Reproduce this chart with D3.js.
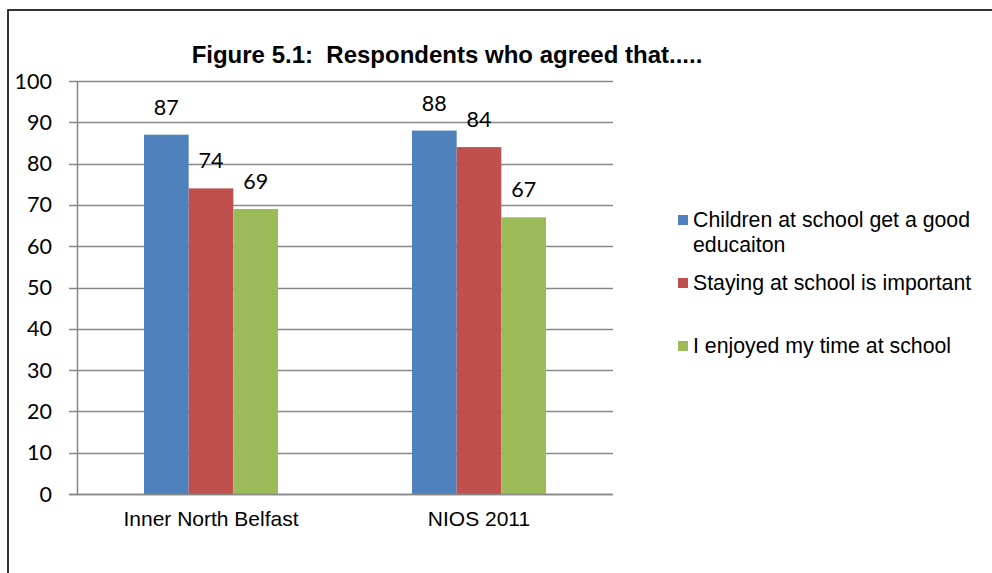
<!DOCTYPE html>
<html><head><meta charset="utf-8">
<script src="https://cdn.jsdelivr.net/npm/d3@7"></script>
<style>body{margin:0;background:#fff}svg{display:block}</style>
</head><body>
<svg id="chart" width="992" height="573"></svg>
<script>
const categories = ["Inner North Belfast", "NIOS 2011"];
const seriesNames = ["Children at school get a good educaiton", "Staying at school is important", "I enjoyed my time at school"];
const legendLines = [["Children at school get a good", "educaiton"], ["Staying at school is important"], ["I enjoyed my time at school"]];
const childrenGoodEducation = [87, 88];
const stayingImportant = [74, 84];
const enjoyedTime = [69, 67];
const yTicks = [0, 10, 20, 30, 40, 50, 60, 70, 80, 90, 100];
const colors = ["#4F81BD", "#C0504D", "#9BBB59"];
const titleText = "Figure 5.1:  Respondents who agreed that.....";

const seriesValues = [childrenGoodEducation, stayingImportant, enjoyedTime];
const svg = d3.select("#chart");

// frame
svg.append("rect").attr("x", 8).attr("y", 10).attr("width", 1000).attr("height", 600)
  .attr("fill", "none").attr("stroke", "#000").attr("stroke-width", 1.6);

const plot = {left: 77, right: 613, top: 81, bottom: 494};
const y = d3.scaleLinear().domain([0, 100]).range([plot.bottom, plot.top]);
const x0 = d3.scaleBand().domain(categories).range([plot.left, plot.right]).padding(0);
const x1 = d3.scaleBand().domain(d3.range(seriesNames.length))
  .range([x0.bandwidth() * 0.25, x0.bandwidth() * 0.75]).padding(0);

// gridlines
svg.append("g").selectAll("line").data(yTicks).join("line")
  .attr("x1", plot.left - 8).attr("x2", plot.right)
  .attr("y1", d => Math.round(y(d)) + 0.5).attr("y2", d => Math.round(y(d)) + 0.5)
  .attr("stroke", "#888").attr("stroke-width", 1.5);

// y axis line
svg.append("line").attr("x1", plot.left + 0.5).attr("x2", plot.left + 0.5)
  .attr("y1", plot.top).attr("y2", plot.bottom)
  .attr("stroke", "#888").attr("stroke-width", 1.5);

// y tick labels
svg.append("g").selectAll("text").data(yTicks).join("text")
  .attr("x", 52).attr("y", d => y(d) + 7.5)
  .attr("text-anchor", "end")
  .attr("font-family", "Lato, 'Open Sans', sans-serif").attr("font-size", 21.5)
  .attr("fill", "#000").text(d => d);

// bars
const groups = svg.append("g").selectAll("g").data(categories).join("g")
  .attr("transform", c => `translate(${x0(c)},0)`);
groups.selectAll("rect").data((c, ci) => seriesValues.map((s, si) => ({si, v: s[ci]})))
  .join("rect")
  .attr("x", d => x1(d.si)).attr("width", x1.bandwidth())
  .attr("y", d => y(d.v)).attr("height", d => y(0) - y(d.v))
  .attr("fill", d => colors[d.si]);
groups.selectAll("text").data((c, ci) => seriesValues.map((s, si) => ({si, v: s[ci]})))
  .join("text")
  .attr("x", d => x1(d.si) + x1.bandwidth() / 2).attr("y", d => y(d.v) - 20)
  .attr("text-anchor", "middle")
  .attr("font-family", "Lato, 'Open Sans', sans-serif").attr("font-size", 21.5)
  .attr("fill", "#000").text(d => d.v);

// x axis line redrawn on top
svg.append("line").attr("x1", plot.left - 8).attr("x2", plot.right)
  .attr("y1", plot.bottom + 0.5).attr("y2", plot.bottom + 0.5)
  .attr("stroke", "#888").attr("stroke-width", 1.5);

// x labels
svg.append("g").selectAll("text").data(categories).join("text")
  .attr("x", c => x0(c) + x0.bandwidth() / 2).attr("y", 526)
  .attr("text-anchor", "middle")
  .attr("font-family", "'Liberation Sans', Arial, sans-serif").attr("font-size", 21)
  .attr("fill", "#000").text(c => c);

// title
svg.append("text").attr("x", 447).attr("y", 63).attr("text-anchor", "middle")
  .attr("font-family", "'Liberation Sans', Arial, sans-serif").attr("font-size", 24)
  .attr("font-weight", "bold").attr("fill", "#000")
  .style("white-space", "pre").attr("xml:space", "preserve").text(titleText);

// legend
const legendBaselines = [227, 290, 353];
const leg = svg.append("g").selectAll("g").data(seriesNames).join("g");
leg.append("rect").attr("x", 678).attr("y", (d, i) => legendBaselines[i] - 12)
  .attr("width", 10).attr("height", 10).attr("fill", (d, i) => colors[i]);
leg.each(function(d, i) {
  const t = d3.select(this).append("text")
    .attr("font-family", "'Liberation Sans', Arial, sans-serif").attr("font-size", 21.3)
    .attr("fill", "#000");
  legendLines[i].forEach((line, li) => {
    t.append("tspan").attr("x", 693).attr("y", legendBaselines[i] + li * 25).text(line);
  });
});
</script>
</body></html>
